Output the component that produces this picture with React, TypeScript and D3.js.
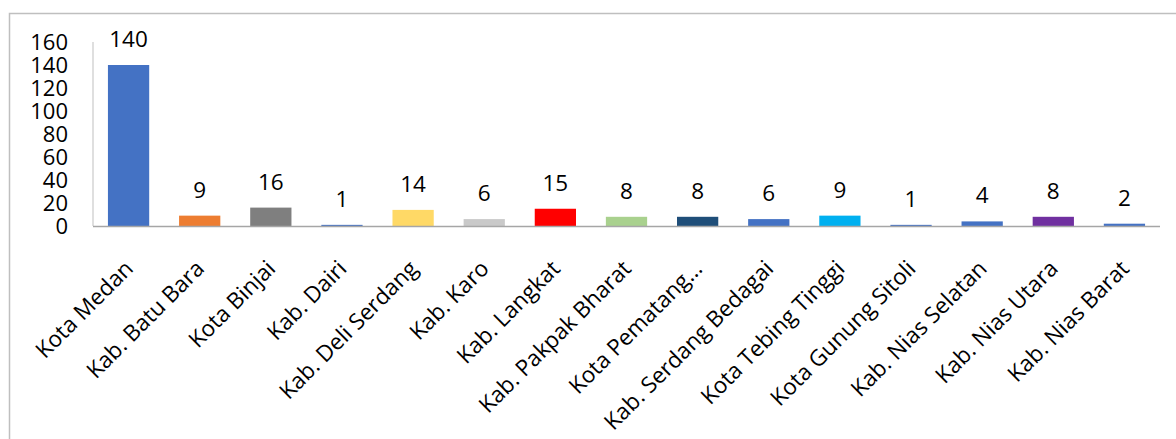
import React, { useRef, useEffect } from "react";
import * as d3 from "d3";

const categories = [
  "Kota Medan",
  "Kab. Batu Bara",
  "Kota Binjai",
  "Kab. Dairi",
  "Kab. Deli Serdang",
  "Kab. Karo",
  "Kab. Langkat",
  "Kab. Pakpak Bharat",
  "Kota Pematang…",
  "Kab. Serdang Bedagai",
  "Kota Tebing Tinggi",
  "Kota Gunung Sitoli",
  "Kab. Nias Selatan",
  "Kab. Nias Utara",
  "Kab. Nias Barat",
];
const values = [140, 9, 16, 1, 14, 6, 15, 8, 8, 6, 9, 1, 4, 8, 2];
const colors = [
  "#4472C4", "#ED7D31", "#7F7F7F", "#4472C4", "#FFD966",
  "#C9C9C9", "#FF0000", "#A9D18E", "#1F4E79", "#4472C4",
  "#00B0F0", "#4472C4", "#4472C4", "#7030A0", "#4472C4",
];
const yTicks = [0, 20, 40, 60, 80, 100, 120, 140, 160];

const W = 1176;
const H = 439;
const FONT = "'Open Sans', 'Noto Sans', sans-serif";

export default function App() {
  const svgRef = useRef<SVGSVGElement>(null);

  useEffect(() => {
    if (!svgRef.current) return;
    const svg = d3.select(svgRef.current);
    svg.selectAll("*").remove();

    const left = 93, right = 1160, top = 42, bottom = 226;

    // outer frame (only left and top edges are visible)
    svg.append("rect")
      .attr("x", 9.5).attr("y", 13.5)
      .attr("width", W + 20).attr("height", H + 20)
      .attr("fill", "white")
      .attr("stroke", "#BFBFBF")
      .attr("stroke-width", 1.5);

    const x = d3.scaleBand<string>()
      .domain(categories)
      .range([left, right])
      .paddingInner(0.42)
      .paddingOuter(0.21);

    const y = d3.scaleLinear().domain([0, 160]).range([bottom, top]);

    // y tick labels
    svg.append("g")
      .selectAll("text")
      .data(yTicks)
      .join("text")
      .attr("x", 68)
      .attr("y", (d) => y(d))
      .attr("dy", "0.36em")
      .attr("text-anchor", "end")
      .attr("font-family", FONT)
      .attr("font-size", 22)
      .attr("fill", "#000")
      .text((d) => d);

    // bars
    svg.append("g")
      .selectAll("rect")
      .data(values)
      .join("rect")
      .attr("x", (_, i) => x(categories[i])!)
      .attr("y", (d) => y(d))
      .attr("width", x.bandwidth())
      .attr("height", (d) => bottom - y(d))
      .attr("fill", (_, i) => colors[i]);

    // axes lines
    svg.append("line")
      .attr("x1", left).attr("x2", left)
      .attr("y1", top).attr("y2", bottom)
      .attr("stroke", "#BFBFBF").attr("stroke-width", 1);
    svg.append("line")
      .attr("x1", left).attr("x2", right)
      .attr("y1", bottom + 0.5).attr("y2", bottom + 0.5)
      .attr("stroke", "#A6A6A6").attr("stroke-width", 1.5);

    // value labels
    svg.append("g")
      .selectAll("text")
      .data(values)
      .join("text")
      .attr("x", (_, i) => x(categories[i])! + x.bandwidth() / 2)
      .attr("y", (d) => y(d) - 18)
      .attr("text-anchor", "middle")
      .attr("font-family", FONT)
      .attr("font-size", 22.5)
      .attr("fill", "#000")
      .text((d) => d);

    // category labels, rotated
    svg.append("g")
      .selectAll("text")
      .data(categories)
      .join("text")
      .attr("transform", (d) => {
        const cx = x(d)! + x.bandwidth() / 2 + 6;
        return `translate(${cx},${bottom + 44}) rotate(-45)`;
      })
      .attr("text-anchor", "end")
      .attr("font-family", FONT)
      .attr("font-size", 22.5)
      .attr("fill", "#000")
      .text((d) => d);
  }, []);

  return (
    <div style={{ position: "fixed", left: 0, top: 0 }}>
      <svg ref={svgRef} width={W} height={H} style={{ display: "block", background: "white" }} />
    </div>
  );
}
